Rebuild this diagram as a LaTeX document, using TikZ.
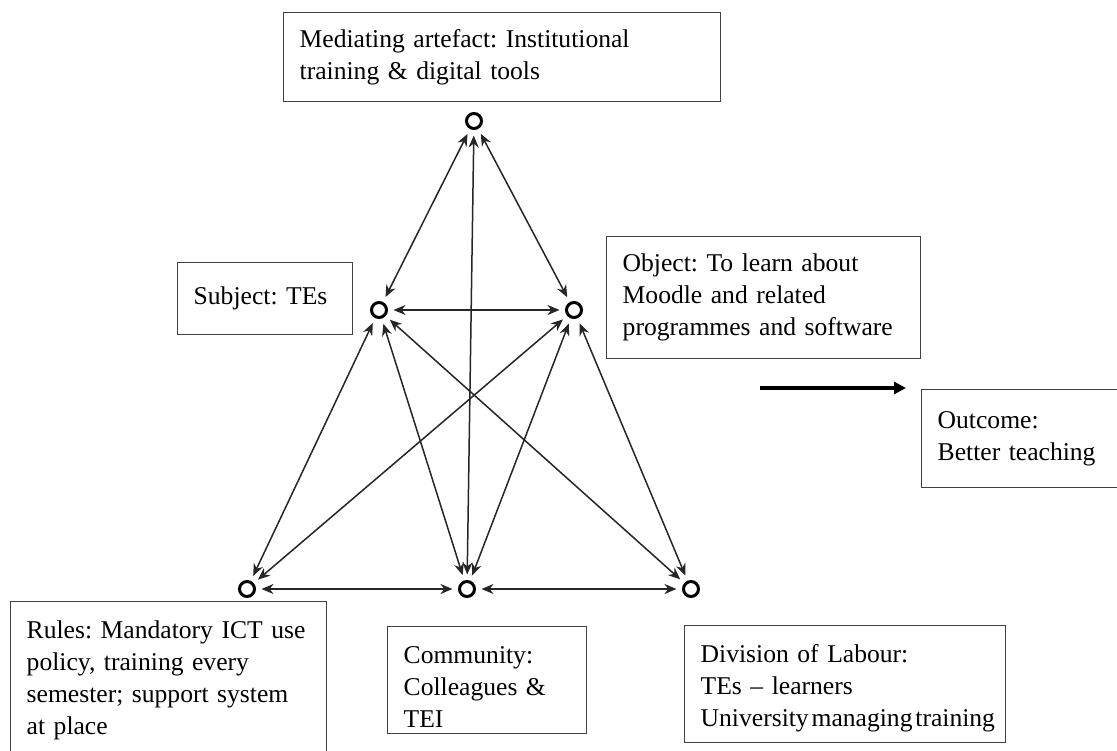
\documentclass[tikz,border=0pt]{standalone}
\usepackage{fontspec}
\setmainfont{Liberation Serif}
\usetikzlibrary{arrows.meta}
\frenchspacing
\hyphenpenalty=10000
\exhyphenpenalty=10000
\newcommand{\myboxfont}{\fontsize{25.6}{32}\selectfont\spaceskip=0.2em plus 0.05em\relax}
\newcommand{\tightline}[1]{\mbox{\spaceskip=0.11em\relax #1}}
\begin{document}
\begin{tikzpicture}[x=1pt,y=-1pt,
  txtbox/.style={draw=black!75, line width=1.4pt, anchor=north west, inner xsep=16pt, inner ysep=0pt,
    align=left, font=\myboxfont, text=black},
  pt/.style={circle, draw=black, line width=3pt, minimum width=12pt, minimum height=15pt, inner sep=0pt, outer sep=7pt},
  link/.style={draw=black!85, line width=1.5pt, {Stealth[length=12pt,width=10pt]}-{Stealth[length=12pt,width=10pt]}},
  bigarrow/.style={draw=black, line width=3.5pt, -{Triangle[length=12pt,width=12pt]}}
]
\useasboundingbox (0,0) rectangle (1117,751);
\clip (0,0) rectangle (1117,751);
\fill[white] (0,0) rectangle (1117,751);

% boxes
\node[txtbox, text width=405pt, minimum height=89pt] (med) at (283,12) {Mediating artefact: Institutional\\training \& digital tools};
\node[txtbox, text width=143pt, minimum height=72pt] (subj) at (177,262) {Subject: TEs};
\node[txtbox, text width=282pt, minimum height=122pt] (obj) at (606,236) {Object: To learn about\\Moodle and related\\programmes and software};
\node[txtbox, text width=200pt, minimum height=98pt] (out) at (921,389) {Outcome:\\Better teaching};
\node[txtbox, text width=284pt, minimum height=158pt] (rules) at (10,601) {Rules: Mandatory ICT use\\policy, training every\\semester; support system\\at place};
\node[txtbox, text width=167pt, minimum height=107pt] (comm) at (387,626) {\rule{0pt}{30pt}Community:\\Colleagues \&\\TEI};
\node[txtbox, text width=289pt, minimum height=117pt] (div) at (684,625) {\rule{0pt}{27pt}Division of Labour:\\TEs -- learners\\\tightline{University managing training}};

% points
\node[pt] (M) at (474,121) {};
\node[pt] (S) at (379,310) {};
\node[pt] (O) at (574,310) {};
\node[pt] (R) at (247,589) {};
\node[pt] (C) at (467,589) {};
\node[pt] (D) at (691,589) {};

% connectors
\draw[link] (M) -- (S);
\draw[link] (M) -- (O);
\draw[link] (M) -- (C);
\draw[link] (S) -- (O);
\draw[link] (S) -- (R);
\draw[link] (S) -- (C);
\draw[link] (S) -- (D);
\draw[link] (O) -- (R);
\draw[link] (O) -- (C);
\draw[link] (O) -- (D);
\draw[link] (R) -- (C);
\draw[link] (C) -- (D);

% outcome arrow
\coordinate (a1) at (760,388);
\coordinate (a2) at (906,388);
\draw[bigarrow] (a1) -- (a2);
\end{tikzpicture}
\end{document}
